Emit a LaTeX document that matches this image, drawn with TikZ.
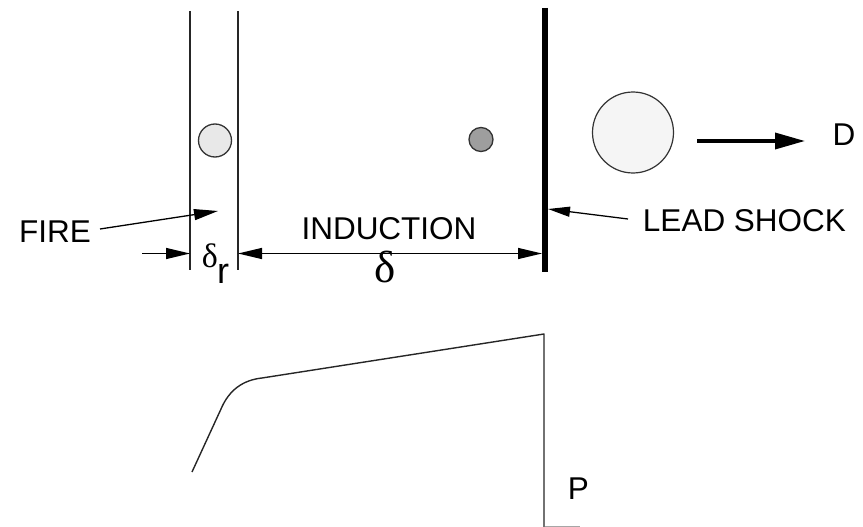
\documentclass[tikz,border=0pt]{standalone}
\usepackage{fontspec}
\setmainfont{Liberation Sans}
\newfontfamily\greekserif{Liberation Serif}
\usetikzlibrary{arrows.meta}
\begin{document}
\begin{tikzpicture}[x=1pt,y=-1pt,
  lbl/.style={inner sep=0pt, font=\fontsize{31.5}{36}\selectfont, anchor=base},
  thinline/.style={line width=1.4pt, draw=black!85},
  arr/.style={line width=1.3pt, -{Triangle[length=24pt,width=11pt]}},
  darr/.style={line width=1.3pt, {Triangle[length=24pt,width=11pt]}-{Triangle[length=24pt,width=11pt]}},
  particle/.style={circle, draw=black!80, line width=1.3pt, inner sep=0pt}
]
\useasboundingbox (0,0) rectangle (863,527);
% flame zone boundaries
\coordinate (f1t) at (190,11); \coordinate (f1b) at (190,270);
\coordinate (f2t) at (238,11); \coordinate (f2b) at (238,270);
\draw[thinline] (f1t) -- (f1b);
\draw[thinline] (f2t) -- (f2b);
% lead shock
\coordinate (st) at (545,8); \coordinate (sb) at (545,272);
\draw[line width=6pt] (st) -- (sb);
% particles
\node[particle, fill=black!9, minimum size=33pt] (p1) at (215,140.5) {};
\node[particle, fill=black!38, minimum size=24pt] (p2) at (481,139.5) {};
\node[particle, fill=black!4, minimum size=81pt, line width=1.2pt] (p3) at (633,132.5) {};
% D arrow
\coordinate (da) at (697,141); \coordinate (db) at (805,141);
\draw[line width=3.5pt, -{Triangle[length=30pt,width=16pt]}] (da) -- (db);
\node[lbl] (D) at (844,146) {D};
% labels
\node[lbl] (fire) at (55,242) {FIRE};
\node[lbl] (ind) at (389,239) {INDUCTION};
\node[lbl] (lead) at (744.5,231.5) {LEAD SHOCK};
\node[lbl] (P) at (578.5,499) {P};
\node[inner sep=0pt, anchor=base, font=\greekserif\fontsize{34}{38}\selectfont] (dr) at (210,267) {δ};
\node[lbl, font=\fontsize{36}{40}\selectfont] (drs) at (223,283) {r};
\node[inner sep=0pt, anchor=base, font=\greekserif\fontsize{45}{50}\selectfont] (dl) at (385.5,282) {δ};
% pointer arrows
\coordinate (firetail) at (100,229); \coordinate (firetip) at (218,211);
\draw[arr] (firetail) -- (firetip);
\coordinate (leadtail) at (628,219); \coordinate (leadtip) at (548,209);
\draw[line width=1.3pt, -{Triangle[length=22pt,width=10pt]}] (leadtail) -- (leadtip);
% dimensions
\coordinate (drtail) at (142,253.5); \coordinate (drtip) at (190,253.5);
\draw[arr] (drtail) -- (drtip);
\coordinate (dla) at (238,253.5); \coordinate (dlb) at (542,253.5);
\draw[darr] (dla) -- (dlb);
% pressure profile
\coordinate (c0) at (192,472); \coordinate (c1) at (221,409);
\coordinate (c2) at (262,378); \coordinate (c3) at (544,334); \coordinate (c4) at (544,527);
\draw[line width=1.4pt, draw=black!85, line join=round] (c0) -- (c1) .. controls (229,390) and (243,380) .. (c2) -- (c3) -- (c4);
\coordinate (g0) at (545,526); \coordinate (g1) at (580,526);
\draw[line width=1pt, draw=black!35] (g0) -- (g1);
\end{tikzpicture}
\end{document}
